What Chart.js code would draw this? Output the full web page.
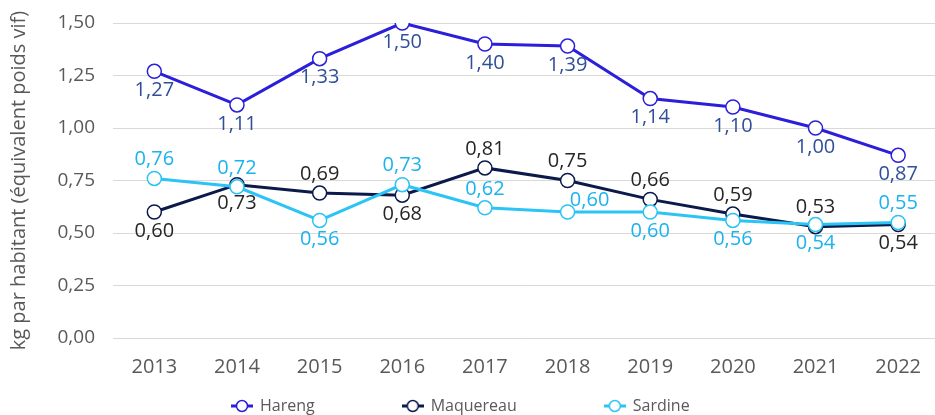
<!DOCTYPE html>
<html lang="fr">
<head>
<meta charset="utf-8">
<script src="https://cdn.jsdelivr.net/npm/chart.js@4.4.1/dist/chart.umd.min.js"></script>
<style>
  html, body { margin: 0; padding: 0; background: #fff; overflow: hidden; }
  #wrap { position: relative; width: 948px; height: 425px; }
</style>
</head>
<body>
<div id="wrap"><canvas id="chart"></canvas></div>
<script>
// ---- data ----
const years = ['2013', '2014', '2015', '2016', '2017', '2018', '2019', '2020', '2021', '2022'];
const hareng = [1.27, 1.11, 1.33, 1.50, 1.40, 1.39, 1.14, 1.10, 1.00, 0.87];
const maquereau = [0.60, 0.73, 0.69, 0.68, 0.81, 0.75, 0.66, 0.59, 0.53, 0.54];
const sardine = [0.76, 0.72, 0.56, 0.73, 0.62, 0.60, 0.60, 0.56, 0.54, 0.55];
const yTicks = [0, 0.25, 0.5, 0.75, 1, 1.25, 1.5];

// where each value label sits relative to its point
const harengPos = ['below', 'below', 'below', 'below', 'below', 'below', 'below', 'below', 'below', 'below'];
const maquereauPos = ['below', 'below', 'above', 'below', 'above', 'above', 'above', 'above', 'above', 'below'];
const sardinePos = ['above', 'above', 'below', 'above', 'above', 'aboveRight', 'below', 'below', 'below', 'above'];

const FONT = "'Open Sans', sans-serif";
const GREY = '#595959';

function fmt(v) {
  return Number(v).toFixed(2).replace('.', ',');
}

// line + hollow circle, used as legend symbol
function marker(color) {
  const c = document.createElement('canvas');
  c.width = 22; c.height = 14;
  const g = c.getContext('2d');
  g.strokeStyle = color; g.lineWidth = 3;
  g.beginPath(); g.moveTo(0, 7); g.lineTo(22, 7); g.stroke();
  g.beginPath(); g.arc(11, 7, 5.5, 0, Math.PI * 2);
  g.fillStyle = '#fff'; g.fill();
  g.lineWidth = 1.5; g.stroke();
  return c;
}

function series(label, data, color, labelColor, pos, order) {
  return {
    label, data, order,
    borderColor: color,
    backgroundColor: '#fff',
    borderWidth: 3,
    pointRadius: 7,
    pointBorderWidth: 1.5,
    pointBackgroundColor: '#fff',
    pointBorderColor: color,
    tension: 0,
    labelColor, labelPos: pos
  };
}

const valueLabels = {
  id: 'valueLabels',
  afterDatasetsDraw(chart) {
    const ctx = chart.ctx;
    ctx.save();
    ctx.font = '20px ' + FONT;
    ctx.textAlign = 'center';
    ctx.textBaseline = 'middle';
    chart.data.datasets.forEach((ds, i) => {
      chart.getDatasetMeta(i).data.forEach((pt, j) => {
        const pos = ds.labelPos[j];
        let dx = 0, dy = pos === 'below' ? 19 : -19;
        if (pos === 'aboveRight') { dx = 22; dy = -12; }
        ctx.fillStyle = ds.labelColor;
        ctx.fillText(fmt(ds.data[j]), pt.x + dx, pt.y + dy);
      });
    });
    ctx.restore();
  }
};

// keep the legend row where the original sits
const legendPlace = {
  id: 'legendPlace',
  afterLayout(chart) {
    const lg = chart.legend;
    const pad = lg.options.labels.padding;
    lg.left = 232 - pad;
    lg.top = 406 - pad - lg.options.labels.font.size / 2;
  }
};

new Chart(document.getElementById('chart'), {
  type: 'line',
  data: {
    labels: years,
    datasets: [
      series('Hareng', hareng, '#2b1fd9', '#2f4f9a', harengPos, 2),
      series('Maquereau', maquereau, '#0b1a4b', '#262626', maquereauPos, 1),
      series('Sardine', sardine, '#2cc3f5', '#1bb3ee', sardinePos, 0)
    ]
  },
  options: {
    responsive: true,
    maintainAspectRatio: false,
    animation: false,
    layout: { padding: { top: 23, right: 0, left: 0, bottom: 0 } },
    plugins: {
      tooltip: { enabled: false },
      legend: {
        position: 'bottom',
        align: 'start',
        maxHeight: 40,
        labels: {
          usePointStyle: true,
          pointStyleWidth: 20,
          padding: 88,
          color: GREY,
          font: { size: 16, family: FONT },
          generateLabels(chart) {
            return chart.data.datasets.map((ds, i) => ({
              text: ds.label,
              pointStyle: marker(ds.borderColor),
              fontColor: GREY,
              fillStyle: 'transparent',
              strokeStyle: 'transparent',
              lineWidth: 0,
              hidden: false,
              datasetIndex: i
            }));
          }
        }
      }
    },
    scales: {
      x: {
        offset: true,
        grid: { display: false },
        border: { display: false },
        ticks: { color: GREY, padding: 9, font: { size: 20, family: FONT } },
        afterFit(s) { s.height = 47; }
      },
      y: {
        min: 0,
        max: 1.5,
        border: { display: false },
        grid: { color: '#d9d9d9', drawTicks: true, tickLength: 18, tickColor: 'transparent' },
        afterBuildTicks(s) { s.ticks = yTicks.map(v => ({ value: v })); },
        afterFit(s) { s.width = 113; },
        ticks: { color: GREY, padding: 0, font: { size: 19, family: FONT }, callback: v => fmt(v) },
        title: {
          display: true,
          text: 'kg par habitant (équivalent poids vif)',
          color: GREY,
          font: { size: 20, family: FONT },
          padding: { top: 7, bottom: 0 }
        }
      }
    }
  },
  plugins: [valueLabels, legendPlace]
});
</script>
</body>
</html>
